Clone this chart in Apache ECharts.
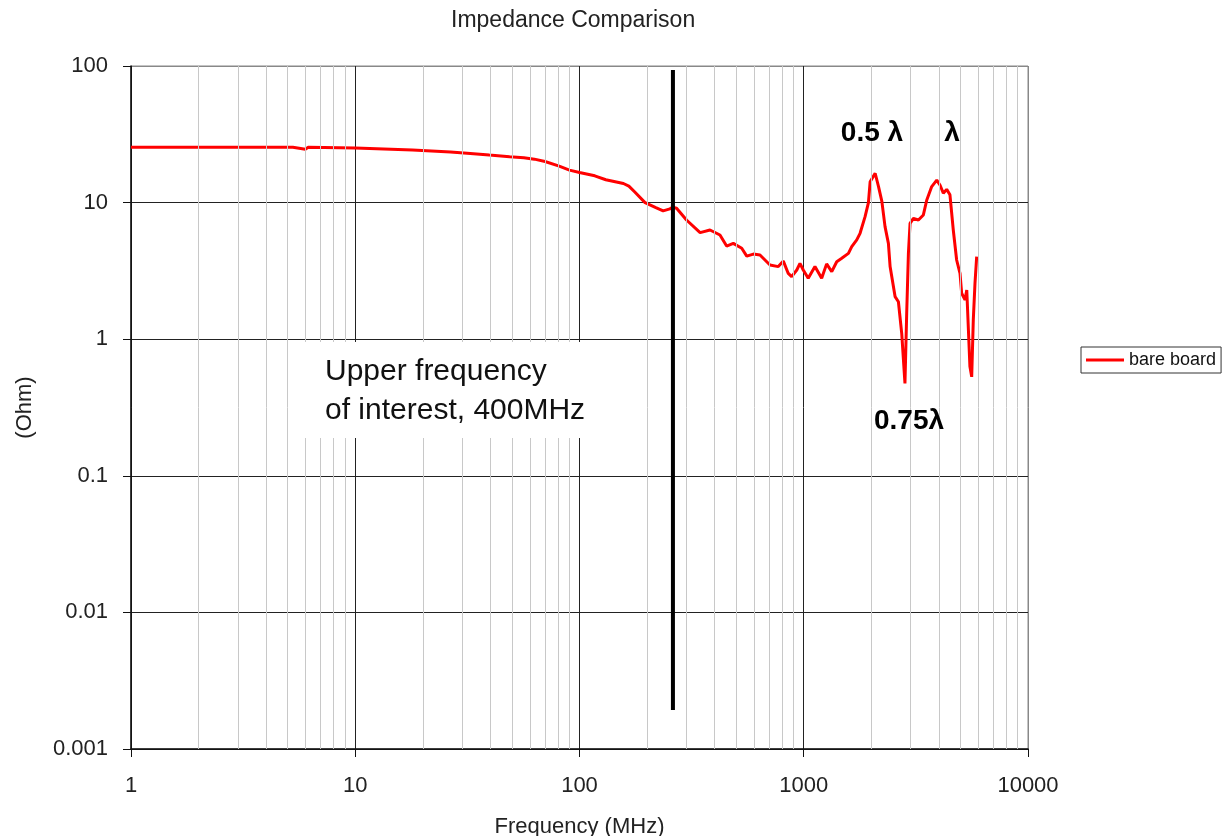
<!DOCTYPE html>
<html>
<head>
<meta charset="utf-8">
<script src="https://cdn.jsdelivr.net/npm/echarts@6/dist/echarts.min.js"></script>
<style>
html,body{margin:0;padding:0;background:#fff;}
#chart{width:1226px;height:836px;}
</style>
</head>
<body>
<div id="chart"></div>
<script>
// Frequency (MHz) and impedance (Ohm)
const freqMHz = [1,1.6,1.63,1.72,3.72,3.79,3.93,4.38,4.47,4.63,5.27,5.37,5.99,6.17,10,18,26.6,32.6,39.6,48.8,56.5,62.9,70.2,81.2,90.2,100,117,131,157,166,176,196,219,236,253,260,271,300,345,382,423,453,485,529,557,596,638,707,770,811,853,883,931,962,995,1047,1122,1202,1265,1333,1403,1477,1582,1637,1723,1783,1877,1943,1977,2082,2155,2230,2304,2385,2427,2554,2643,2735,2827,2878,2929,2979,3083,3246,3415,3534,3721,3918,4055,4192,4339,4487,4643,4806,4975,5060,5236,5333,5508,5610,5702,5802,5904];
const impedanceOhm = [25.4,25.4,24.6,25.4,25.4,24.6,25.4,25.4,24.6,25.4,25.4,24.6,24.6,25.4,25.1,24.3,23.5,22.9,22.3,21.7,21.3,20.8,20.0,18.5,17.3,16.6,15.7,14.7,13.8,13.2,12.0,10.0,9.2,8.7,9.0,9.24,9.08,7.46,6.03,6.30,5.79,4.81,5.03,4.63,4.06,4.20,4.13,3.49,3.40,3.73,3.03,2.87,3.21,3.59,3.21,2.79,3.40,2.79,3.56,3.12,3.69,3.91,4.25,4.76,5.33,5.96,7.89,10.0,14.2,16.4,13.1,10.2,6.67,5.03,3.40,2.05,1.88,1.10,0.475,1.55,4.25,7.05,7.67,7.46,8.12,10.4,13.1,14.6,13.4,11.7,12.5,11.4,6.30,3.80,3.03,2.17,1.94,2.29,0.63,0.53,1.38,2.56,4.02];
// Vertical marker line ("upper frequency of interest")
const markerFreq = [261, 261];
const markerOhm = [93.5, 0.00193];
// Minor (light) vertical grid lines
const minorFreqs = [2,3,4,5,6,7,8,9,20,30,40,50,60,70,80,90,200,300,400,500,600,700,800,900,2000,3000,4000,5000,6000,7000,8000,9000];
const xTickLabels = ['1','10','100','1000','10000'];
const yTickLabels = ['0.001','0.01','0.1','1','10','100'];
const seriesName = 'bare board';

const FONT = 'Liberation Sans, Arial, sans-serif';
const chart = echarts.init(document.getElementById('chart'), null, {renderer:'canvas'});

const curve = freqMHz.map((f,i)=>[f, impedanceOhm[i]]);
const marker = markerFreq.map((f,i)=>[f, markerOhm[i]]);

chart.setOption({
  animation:false,
  backgroundColor:'#fff',
  title:{
    text:'Impedance Comparison',
    left:446, top:4,
    textStyle:{fontFamily:FONT,fontSize:23,fontWeight:'normal',color:'#222'}
  },
  legend:{
    data:[seriesName],
    orient:'vertical',
    left:1081, top:347,
    padding:[4,5],
    borderColor:'#333', borderWidth:1,
    itemWidth:38, itemHeight:3, icon:'rect',
    textStyle:{fontFamily:FONT,fontSize:18,color:'#111'}
  },
  grid:{
    left:131, right:198, top:66, bottom:87,
    outerBoundsMode:'none', containLabel:false,
    show:true, borderColor:'#888', borderWidth:1, backgroundColor:'#fff'
  },
  xAxis:{
    type:'log', logBase:10, min:1, max:10000, splitNumber:4,
    name:'Frequency (MHz)', nameLocation:'middle', nameGap:67,
    nameTextStyle:{fontFamily:FONT,fontSize:22,color:'#222'},
    axisLine:{show:true,lineStyle:{color:'#111',width:1.5}},
    axisTick:{show:true,length:8,lineStyle:{color:'#111'}},
    axisLabel:{
      margin:26, fontFamily:FONT, fontSize:22, color:'#222',
      formatter:v=>xTickLabels[Math.round(Math.log10(v))] ?? ''
    },
    splitLine:{show:true,lineStyle:{color:['#222','#222','#222','#222','#888'],width:1}}
  },
  yAxis:{
    type:'log', logBase:10, min:0.001, max:100, splitNumber:5,
    name:'(Ohm)', nameLocation:'middle', nameGap:95,
    nameTextStyle:{fontFamily:FONT,fontSize:22,color:'#222'},
    axisLine:{show:true,lineStyle:{color:'#111',width:1.5}},
    axisTick:{show:true,length:8,lineStyle:{color:'#111'}},
    axisLabel:{
      margin:23, fontFamily:FONT, fontSize:22, color:'#222',
      formatter:v=>yTickLabels[Math.round(Math.log10(v))+3] ?? ''
    },
    splitLine:{show:true,lineStyle:{color:['#222','#222','#222','#222','#222','#888'],width:1}}
  },
  series:[
    {
      name:'minor-grid', type:'line', data:[], silent:true, z:1,
      markLine:{
        silent:true, symbol:'none', label:{show:false},
        lineStyle:{color:'#c8c8c8', width:1, type:'solid'},
        emphasis:{disabled:true},
        data:minorFreqs.map(f=>({xAxis:f}))
      }
    },
    {
      name:seriesName, type:'line', data:curve, z:3,
      symbol:'none', smooth:false,
      lineStyle:{color:'#ff0000', width:3},
      itemStyle:{color:'#ff0000'}
    },
    {
      name:'marker', type:'line', data:marker, z:4,
      symbol:'none', silent:true,
      lineStyle:{color:'#000', width:4}
    }
  ],
  graphic:[
    {type:'rect', z:100, shape:{x:305,y:342,width:312,height:96}, style:{fill:'#fff'}},
    {type:'text', z:101, x:325, y:372, style:{text:'Upper frequency', font:'30px '+FONT, fill:'#111', verticalAlign:'middle', align:'left'}},
    {type:'text', z:101, x:325, y:411, style:{text:'of interest, 400MHz', font:'30px '+FONT, fill:'#111', verticalAlign:'middle', align:'left'}},
    {type:'text', z:101, x:872, y:133, style:{text:'0.5 λ', font:'bold 28px '+FONT, fill:'#000', verticalAlign:'middle', align:'center'}},
    {type:'text', z:101, x:952, y:133, style:{text:'λ', font:'bold 28px '+FONT, fill:'#000', verticalAlign:'middle', align:'center'}},
    {type:'text', z:101, x:909, y:421, style:{text:'0.75λ', font:'bold 28px '+FONT, fill:'#000', verticalAlign:'middle', align:'center'}}
  ]
});
</script>
</body>
</html>
